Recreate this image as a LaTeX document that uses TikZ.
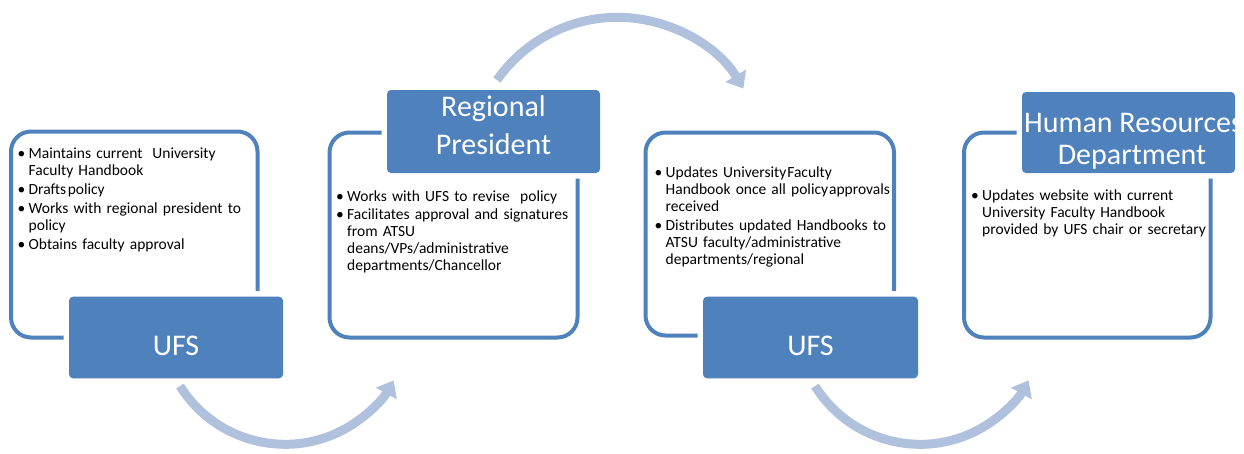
\documentclass[tikz,border=0pt]{standalone}
\usepackage{fontspec}
\setmainfont{Carlito}
\usetikzlibrary{arrows.meta}
\definecolor{dblue}{RGB}{79,129,189}
\definecolor{lblue}{RGB}{176,193,222}
\newcommand{\bitem}[1]{\par\hangindent=11pt\hangafter=1\noindent\makebox[11pt][l]{\strut\textbullet}#1\par}
\begin{document}
\begin{tikzpicture}[x=1pt,y=-1pt,
  outline/.style={draw=dblue,line width=4pt,rounded corners=20pt,inner sep=0pt},
  title/.style={fill=dblue,rounded corners=4pt,text=white,inner sep=0pt,
    preaction={draw=white,line width=11pt}},
  body/.style={anchor=north west,inner sep=0pt,text width=280pt,align=left,
    font=\fontsize{15.5}{17}\selectfont},
  flow/.style={draw=lblue,line width=9pt,-{Triangle[width=23pt,length=15pt]}}]
\useasboundingbox (0,0) rectangle (1244,453);

% arrows
\coordinate (a1s) at (180,386);
\coordinate (a2s) at (497,80);
\coordinate (a3s) at (815,386);
\draw[flow] (a1s) arc[start angle=212,end angle=331,radius=124pt];
\draw[flow] (a2s) arc[start angle=145,end angle=31,radius=147pt];
\draw[flow] (a3s) arc[start angle=212,end angle=331,radius=124pt];

% outlines
\node[outline,minimum width=246.5pt,minimum height=206pt] (o1) at (134.25,234.5) {};
\node[outline,minimum width=248pt,minimum height=205pt] (o2) at (453.5,235) {};
\node[outline,minimum width=248.5pt,minimum height=203pt] (o3) at (769.75,234) {};
\node[outline,minimum width=246.5pt,minimum height=205pt] (o4) at (1087.25,235) {};

% title boxes
\node[title] (t1) at (176,337.5) {\parbox[t][81.6pt][t]{214pt}{\centering\fontsize{30}{38}\selectfont\rule{0pt}{58.3pt}UFS}};
\node[title] (t2) at (493.5,131.5) {\parbox[t][83pt][t]{213pt}{\centering\fontsize{30}{38}\selectfont\rule{0pt}{26pt}Regional\\President}};
\node[title] (t3) at (810.5,337.5) {\parbox[t][81.6pt][t]{215pt}{\centering\fontsize{30}{38}\selectfont\rule{0pt}{58.3pt}UFS}};
\node[title] (t4) at (1128.5,132.5) {\parbox[t][81pt][t]{213pt}{\centering\fontsize{30}{32}\selectfont\rule{0pt}{40pt}\makebox[213pt][c]{\hspace{10pt}Human Resources}\\\makebox[213pt][c]{\hspace{7pt}Department}}};

% body texts
\node[body] (b1) at (17.5,138.8) {\setlength{\parskip}{2pt}%
\bitem{Maintains current\hspace{10pt}University\newline Faculty Handbook}
\bitem{Drafts\hspace{1.5pt}policy}
\bitem{Works with regional president to\newline policy}
\bitem{Obtains faculty approval}};
\node[body] (b2) at (336,183) {\setlength{\parskip}{1pt}%
\bitem{Works with UFS to revise\ \ policy}
\bitem{Facilitates approval and signatures\newline from ATSU\newline deans/VPs/administrative\newline departments/Chancellor}};
\node[body] (b3) at (654.5,158) {\setlength{\parskip}{2pt}%
\bitem{Updates University\hspace{1pt}Faculty\newline Handbook once all policy\hspace{1pt}approvals\newline received}
\bitem{Distributes updated Handbooks to\newline ATSU faculty/administrative\newline departments/regional}};
\node[body] (b4) at (971,181.5) {\setlength{\parskip}{2pt}%
\bitem{Updates website with current\newline University Faculty Handbook\newline provided by UFS chair or secretary}};
\end{tikzpicture}
\end{document}
